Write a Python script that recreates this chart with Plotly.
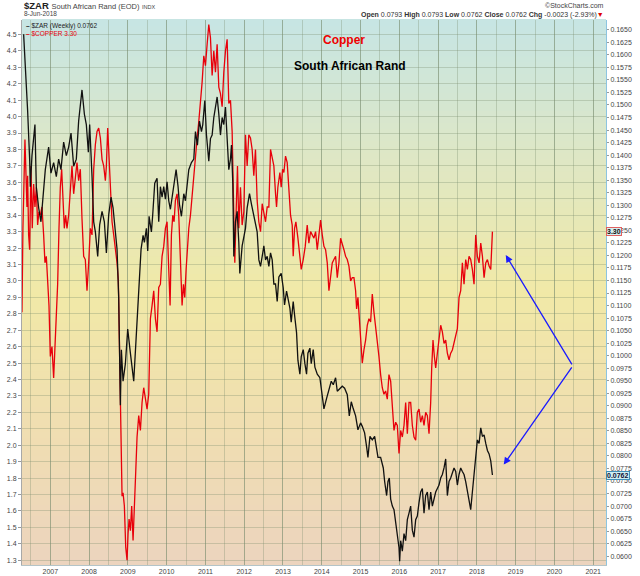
import plotly.graph_objects as go

# $ZAR (USD per rand), weekly - right axis
zar_year = [2006.312, 2006.380, 2006.415, 2006.467, 2006.484, 2006.527, 2006.570, 2006.604, 2006.639, 2006.699,
            2006.759, 2006.811, 2006.871, 2006.957, 2007.017, 2007.086, 2007.155, 2007.215, 2007.275, 2007.344,
            2007.413, 2007.473, 2007.534, 2007.602, 2007.671, 2007.731, 2007.817, 2007.878, 2007.929, 2007.981,
            2008.015, 2008.076, 2008.119, 2008.162, 2008.222, 2008.273, 2008.334, 2008.394, 2008.446, 2008.506,
            2008.566, 2008.618, 2008.678, 2008.721, 2008.764, 2008.790, 2008.807, 2008.833, 2008.876, 2008.936,
            2008.996, 2009.065, 2009.108, 2009.151, 2009.211, 2009.254, 2009.306, 2009.340, 2009.392, 2009.426,
            2009.478, 2009.512, 2009.547,
            2009.607, 2009.641, 2009.693, 2009.753, 2009.796, 2009.839, 2009.882, 2009.925, 2009.968, 2010.011,
            2010.054, 2010.097, 2010.140, 2010.183, 2010.244, 2010.295, 2010.330, 2010.381, 2010.442, 2010.485,
            2010.528, 2010.571, 2010.639, 2010.700, 2010.743, 2010.794, 2010.846, 2010.898, 2010.932, 2010.984,
            2011.027, 2011.087, 2011.130, 2011.173, 2011.216, 2011.259, 2011.302, 2011.345, 2011.388, 2011.431,
            2011.474, 2011.517, 2011.560, 2011.603, 2011.646, 2011.672, 2011.706, 2011.732, 2011.775, 2011.818,
            2011.861, 2011.887, 2011.947, 2011.990, 2012.033, 2012.076, 2012.137, 2012.188, 2012.248, 2012.291,
            2012.334, 2012.378, 2012.421, 2012.464, 2012.507, 2012.550, 2012.593, 2012.636, 2012.679, 2012.722,
            2012.765,
            2012.808, 2012.851, 2012.894, 2012.954, 2013.006, 2013.040, 2013.092, 2013.126, 2013.178, 2013.212,
            2013.264, 2013.299, 2013.350, 2013.385, 2013.436, 2013.471, 2013.522, 2013.565, 2013.608, 2013.643,
            2013.694, 2013.729, 2013.780, 2013.823, 2013.884, 2013.952, 2014.013, 2014.056, 2014.125, 2014.185,
            2014.245, 2014.297, 2014.357, 2014.400, 2014.469, 2014.529, 2014.589, 2014.658, 2014.710, 2014.761,
            2014.813, 2014.873, 2014.933, 2015.002, 2015.045, 2015.105, 2015.157, 2015.191, 2015.243, 2015.303,
            2015.364, 2015.415, 2015.450, 2015.518, 2015.587, 2015.622, 2015.673, 2015.708, 2015.742, 2015.777,
            2015.820, 2015.863, 2015.906, 2015.949, 2015.992,
            2016.009, 2016.035, 2016.078, 2016.121, 2016.164, 2016.207, 2016.250, 2016.293, 2016.336, 2016.379,
            2016.422, 2016.465, 2016.508, 2016.551, 2016.594, 2016.637, 2016.680, 2016.723, 2016.766, 2016.809,
            2016.852, 2016.895, 2016.938, 2016.981, 2017.024, 2017.067, 2017.110, 2017.153, 2017.196, 2017.239,
            2017.282, 2017.325, 2017.368, 2017.411, 2017.454, 2017.497, 2017.540, 2017.583, 2017.626, 2017.669,
            2017.712, 2017.755, 2017.798, 2017.841, 2017.884, 2017.927, 2017.970, 2018.013, 2018.057, 2018.100,
            2018.143, 2018.186, 2018.229, 2018.272, 2018.315, 2018.358, 2018.401]
zar_value = [0.1641, 0.1544, 0.1489, 0.1392, 0.1337, 0.1399, 0.1433, 0.1461, 0.1337, 0.1295,
             0.1267, 0.1323, 0.1371, 0.1416, 0.1364, 0.1385, 0.1357, 0.1392, 0.1371, 0.1426,
             0.1399, 0.1416, 0.1444, 0.1378, 0.1392, 0.1468, 0.1530, 0.1482, 0.1461, 0.1406,
             0.1461, 0.1357, 0.1267, 0.1247, 0.1198, 0.1261, 0.1288, 0.1267, 0.1205, 0.1281,
             0.1316, 0.1295, 0.1254, 0.1212, 0.1115, 0.0977, 0.0901, 0.1012, 0.0949, 0.0984,
             0.1053, 0.1005, 0.0977, 0.0949, 0.1032, 0.1095, 0.1184, 0.1212, 0.1240, 0.1226,
             0.1254, 0.1209, 0.1278,
             0.1247, 0.1281, 0.1344, 0.1354, 0.1267, 0.1337, 0.1316, 0.1337, 0.1312, 0.1347,
             0.1309, 0.1292, 0.1316, 0.1347, 0.1371, 0.1337, 0.1302, 0.1278, 0.1323, 0.1309,
             0.1344, 0.1371, 0.1385, 0.1392, 0.1447, 0.1420, 0.1468, 0.1447, 0.1461, 0.1509,
             0.1440, 0.1388, 0.1433, 0.1440, 0.1475, 0.1496, 0.1516, 0.1482, 0.1440, 0.1475,
             0.1461, 0.1496, 0.1440, 0.1371, 0.1392, 0.1420, 0.1344, 0.1198, 0.1267, 0.1288,
             0.1226, 0.1164, 0.1219, 0.1240, 0.1254, 0.1295, 0.1323, 0.1302, 0.1281, 0.1261,
             0.1247, 0.1191, 0.1178, 0.1198, 0.1219, 0.1191, 0.1198, 0.1178, 0.1205, 0.1191,
             0.1143,
             0.1143, 0.1108, 0.1157, 0.1164, 0.1136, 0.1101, 0.1129, 0.1115, 0.1095, 0.1067,
             0.1108, 0.1081, 0.1046, 0.0991, 0.0963, 0.0998, 0.1012, 0.0984, 0.0963, 0.1005,
             0.1015, 0.0984, 0.1012, 0.0977, 0.0963, 0.0956, 0.0922, 0.0894, 0.0915, 0.0935,
             0.0949, 0.0942, 0.0956, 0.0929, 0.0935, 0.0939, 0.0935, 0.0922, 0.0880, 0.0908,
             0.0894, 0.0880, 0.0852, 0.0866, 0.0859, 0.0846, 0.0818, 0.0797, 0.0839, 0.0832,
             0.0839, 0.0811, 0.0797, 0.0797, 0.0776, 0.0749, 0.0721, 0.0749, 0.0756, 0.0714,
             0.0700, 0.0693, 0.0666, 0.0638, 0.0617,
             0.0590, 0.0631, 0.0610, 0.0645, 0.0631, 0.0673, 0.0686, 0.0700, 0.0652, 0.0638,
             0.0673, 0.0680, 0.0707, 0.0728, 0.0735, 0.0686, 0.0721, 0.0728, 0.0693, 0.0728,
             0.0700, 0.0714, 0.0728, 0.0735, 0.0742, 0.0756, 0.0763, 0.0776, 0.0794, 0.0721,
             0.0749, 0.0756, 0.0769, 0.0776, 0.0769, 0.0742, 0.0763, 0.0776, 0.0769, 0.0763,
             0.0749, 0.0728, 0.0707, 0.0693, 0.0728, 0.0763, 0.0804, 0.0832, 0.0825, 0.0856,
             0.0839, 0.0842, 0.0825, 0.0811, 0.0804, 0.0790, 0.0762]

# $COPPER (USD/lb) - left axis
copper_year = [2006.269, 2006.294, 2006.346, 2006.380, 2006.398, 2006.415, 2006.441, 2006.467, 2006.501, 2006.535,
               2006.570, 2006.604, 2006.639, 2006.673, 2006.707, 2006.742, 2006.785, 2006.828, 2006.862, 2006.897,
               2006.931, 2006.966, 2007.000, 2007.043, 2007.086, 2007.129, 2007.155, 2007.189, 2007.224, 2007.258,
               2007.293, 2007.327, 2007.361, 2007.396, 2007.430, 2007.473, 2007.516, 2007.559, 2007.602, 2007.645,
               2007.688, 2007.731, 2007.774, 2007.817, 2007.860, 2007.903, 2007.946, 2007.989, 2008.033, 2008.076,
               2008.119, 2008.162, 2008.205, 2008.248, 2008.291, 2008.334, 2008.377, 2008.420, 2008.446, 2008.480,
               2008.514, 2008.549, 2008.592, 2008.635, 2008.678, 2008.721, 2008.755, 2008.790, 2008.824, 2008.850,
               2008.876, 2008.910, 2008.945, 2008.979, 2009.005, 2009.031, 2009.065, 2009.099, 2009.134, 2009.168,
               2009.203, 2009.237, 2009.280, 2009.323, 2009.366, 2009.409,
               2009.495, 2009.538, 2009.581, 2009.624, 2009.667, 2009.710, 2009.753, 2009.796, 2009.839, 2009.882,
               2009.925, 2009.968, 2010.011, 2010.054, 2010.089, 2010.123, 2010.158, 2010.192, 2010.226, 2010.269,
               2010.312, 2010.355, 2010.398, 2010.433, 2010.467, 2010.502, 2010.536, 2010.571, 2010.614, 2010.657,
               2010.700, 2010.743, 2010.786, 2010.829, 2010.872, 2010.915, 2010.958, 2011.001, 2011.044, 2011.087,
               2011.130, 2011.173, 2011.216, 2011.259, 2011.302, 2011.345, 2011.388, 2011.431, 2011.474, 2011.517,
               2011.560, 2011.603, 2011.646, 2011.689, 2011.732, 2011.758, 2011.792, 2011.827, 2011.861, 2011.904,
               2011.947, 2011.990, 2012.033, 2012.076, 2012.119, 2012.162, 2012.205, 2012.248, 2012.291, 2012.334,
               2012.377, 2012.421, 2012.464, 2012.507, 2012.550, 2012.593, 2012.636, 2012.679, 2012.722, 2012.765,
               2012.808, 2012.834, 2012.868, 2012.920, 2012.954, 2012.989, 2013.023, 2013.066, 2013.109, 2013.152,
               2013.195, 2013.238, 2013.264, 2013.299, 2013.333, 2013.385, 2013.436, 2013.471, 2013.522, 2013.574,
               2013.625, 2013.668, 2013.712, 2013.755, 2013.798, 2013.841, 2013.884, 2013.927, 2013.970, 2014.013,
               2014.056, 2014.099, 2014.142, 2014.185, 2014.228, 2014.271, 2014.314, 2014.357, 2014.400, 2014.443,
               2014.486, 2014.529, 2014.572, 2014.615, 2014.658, 2014.701, 2014.744, 2014.787, 2014.830, 2014.873,
               2014.899, 2014.933, 2014.968, 2015.002, 2015.045, 2015.088, 2015.131, 2015.174, 2015.217, 2015.260,
               2015.303, 2015.346, 2015.389, 2015.432, 2015.475, 2015.518, 2015.561, 2015.604, 2015.647, 2015.690,
               2015.733, 2015.777, 2015.820, 2015.863, 2015.906, 2015.949,
               2015.992, 2016.035, 2016.078, 2016.121, 2016.164, 2016.207, 2016.250, 2016.293, 2016.336, 2016.379,
               2016.422, 2016.465, 2016.508, 2016.551, 2016.594, 2016.637, 2016.680, 2016.723, 2016.766, 2016.809,
               2016.835, 2016.869, 2016.904, 2016.938, 2016.981, 2017.024, 2017.067, 2017.110, 2017.153, 2017.196,
               2017.239, 2017.282, 2017.325, 2017.368, 2017.411, 2017.454, 2017.497, 2017.540, 2017.583, 2017.626,
               2017.669, 2017.712, 2017.755, 2017.798, 2017.841, 2017.884, 2017.927, 2017.970, 2018.013, 2018.057,
               2018.100, 2018.143, 2018.186, 2018.229, 2018.272, 2018.315, 2018.358, 2018.401]
copper_price = [2.81, 3.32, 3.86, 3.66, 3.45, 3.64, 3.28, 3.19, 3.70, 3.32,
                3.59, 3.45, 3.57, 3.34, 3.42, 3.40, 3.45, 3.28, 3.11, 3.15,
                3.02, 2.85, 2.54, 2.60, 2.41, 2.62, 2.73, 2.98, 3.32, 3.57,
                3.68, 3.53, 3.32, 3.40, 3.32, 3.40, 3.53, 3.70, 3.53, 3.64,
                3.72, 3.61, 3.68, 3.38, 3.15, 3.13, 2.94, 3.11, 3.32, 3.28,
                3.68, 3.83, 3.91, 3.93, 3.87, 3.74, 3.70, 3.61, 3.70, 3.93,
                3.74, 3.53, 3.36, 3.28, 3.21, 3.11, 3.00, 2.47, 2.16, 1.69,
                1.71, 1.63, 1.38, 1.30, 1.46, 1.55, 1.48, 1.63, 1.42, 1.69,
                1.84, 2.05, 2.18, 2.09, 2.26, 2.35,
                2.22, 2.31, 2.77, 2.85, 2.94, 2.77, 2.69, 2.96, 2.98, 3.15,
                3.21, 3.32, 3.36, 3.07, 2.85, 3.28, 3.40, 3.36, 3.49, 3.53,
                3.40, 3.13, 2.85, 2.98, 2.90, 3.07, 3.23, 3.32, 3.40, 3.53,
                3.64, 3.78, 3.87, 3.97, 4.08, 4.21, 4.37, 4.31, 4.44, 4.56,
                4.48, 4.25, 4.40, 4.27, 4.44, 4.18, 4.14, 4.06, 4.27, 4.40,
                4.47, 4.08, 4.10, 3.91, 3.40, 3.11, 3.42, 3.70, 3.32, 3.57,
                3.34, 3.42, 3.89, 3.70, 3.89, 3.87, 3.80, 3.64, 3.80, 3.49,
                3.36, 3.30, 3.47, 3.42, 3.36, 3.45, 3.45, 3.80, 3.74, 3.70,
                3.53, 3.45, 3.57, 3.66, 3.57, 3.68, 3.66, 3.76, 3.72, 3.53,
                3.40, 3.34, 3.15, 3.32, 3.36, 3.26, 3.13, 3.07, 3.13, 3.21,
                3.34, 3.23, 3.30, 3.28, 3.26, 3.30, 3.19, 3.28, 3.37, 3.28,
                3.21, 3.19, 3.11, 2.94, 3.02, 3.11, 3.13, 3.15, 3.02, 3.11,
                3.26, 3.23, 3.19, 3.15, 3.13, 3.09, 3.00, 3.02, 3.02, 2.94,
                2.83, 2.90, 2.79, 2.64, 2.50, 2.58, 2.64, 2.73, 2.77, 2.75,
                2.92, 2.81, 2.73, 2.62, 2.54, 2.43, 2.35, 2.31, 2.33, 2.28,
                2.43, 2.39, 2.26, 2.09, 2.14, 2.12,
                1.95, 2.09, 2.05, 2.12, 2.26, 2.07, 2.26, 2.26, 2.12, 2.05,
                2.03, 2.20, 2.22, 2.14, 2.18, 2.12, 2.20, 2.18, 2.07, 2.26,
                2.47, 2.64, 2.54, 2.47, 2.56, 2.66, 2.73, 2.69, 2.62, 2.64,
                2.56, 2.52, 2.56, 2.58, 2.62, 2.66, 2.71, 2.90, 2.94, 3.11,
                2.98, 3.13, 3.07, 3.15, 3.13, 3.07, 2.98, 3.28, 3.15, 3.11,
                3.23, 3.15, 3.02, 3.11, 3.13, 3.09, 3.07, 3.30]

year_ticks = list(range(2007, 2022))
year_labels = [str(y) for y in year_ticks]

FONT = "Liberation Sans, Arial, sans-serif"
GRID = "rgba(120,140,110,0.32)"

fig = go.Figure()

fig.add_trace(go.Scatter(x=copper_year, y=copper_price, mode="lines", name="$COPPER",
                         line=dict(color="#e8000b", width=1.3), yaxis="y"))
fig.add_trace(go.Scatter(x=zar_year, y=zar_value, mode="lines", name="$ZAR",
                         line=dict(color="#111111", width=1.3), yaxis="y2"))

# background gradient of the plot area (teal top -> yellow -> peach bottom)
stops = [(0.0, (236, 212, 190)), (0.25, (240, 222, 177)), (0.5, (241, 233, 167)),
         (0.75, (222, 231, 197)), (1.0, (198, 229, 228))]


def band_color(t):
    for (p0, c0), (p1, c1) in zip(stops[:-1], stops[1:]):
        if p0 <= t <= p1:
            f = (t - p0) / (p1 - p0)
            return "rgb(%d,%d,%d)" % tuple(round(a + (b - a) * f) for a, b in zip(c0, c1))
    return "rgb(%d,%d,%d)" % stops[-1][1]


n_bands = 90
shapes = []
for i in range(n_bands):
    shapes.append(dict(type="rect", xref="paper", yref="paper", layer="below",
                       x0=0, x1=1, y0=i / n_bands, y1=(i + 1) / n_bands + 0.002,
                       line=dict(width=0), fillcolor=band_color((i + 0.5) / n_bands)))

annotations = [
    dict(text="<b>$ZAR</b> <span style='font-size:7.5px;color:#444'>South African Rand (EOD)</span>"
              " <span style='font-size:5.5px;color:#444'>INDX</span>",
         x=0, y=1.0257, xanchor="left", yanchor="middle", font=dict(size=9.5, color="#222")),
    dict(text="8-Jun-2018", x=0, y=1.0115, xanchor="left", yanchor="middle",
         font=dict(size=6.5, color="#444")),
    dict(text="©StockCharts.com", x=1, y=1.0266, xanchor="right", yanchor="middle",
         font=dict(size=7, color="#444")),
    dict(text="<b>Open</b> 0.0793 <b>High</b> 0.0793 <b>Low</b> 0.0762 <b>Close</b> 0.0762 "
              "<b>Chg</b> -0.0023 (-2.93%)<span style='color:#e00000'>▼</span>",
         x=1, y=1.0092, xanchor="right", yanchor="middle", font=dict(size=7, color="#333")),
    # in-chart legend, two lines in one block
    dict(text="<b>–</b> $ZAR (Weekly) 0.0762<br><span style='color:#e8000b'><b>–</b> $COPPER 3.30</span>",
         x=0.003, y=1.0, xanchor="left", yanchor="top", align="left",
         font=dict(size=6.5, color="#222")),
    dict(text="<b>Copper</b>", x=0.5514, y=0.9633, xanchor="center", yanchor="middle",
         font=dict(size=12, color="#ee0000")),
    dict(text="<b>South African Rand</b>", x=0.5616, y=0.9156, xanchor="center", yanchor="middle",
         font=dict(size=12, color="#000000")),
]
for a in annotations:
    a.update(xref="paper", yref="paper", showarrow=False)
    a["font"]["family"] = FONT

# value tags on the right axis
annotations.append(dict(text="<b>3.30</b>", xref="paper", x=1.0, xanchor="left", yref="y", y=3.30,
                        showarrow=False, font=dict(size=7, color="#111", family=FONT),
                        bgcolor="#d6eef0", bordercolor="#e06060", borderwidth=1, borderpad=0))
annotations.append(dict(text="<b>0.0762</b>", xref="paper", x=1.0, xanchor="left", yref="y2", y=0.0762,
                        showarrow=False, font=dict(size=7, color="#113", family=FONT),
                        bgcolor="#cdeef2", bordercolor="#3f8fb8", borderwidth=1, borderpad=0))

# blue arrows pointing at the latest values
for tip_x, tip_y in [(2018.745, 3.157), (2018.693, 1.882)]:
    annotations.append(dict(text="", x=tip_x, y=tip_y, xref="x", yref="y",
                            ax=2020.474, ay=2.483, axref="x", ayref="y",
                            showarrow=True, arrowhead=2, arrowsize=1.1, arrowwidth=1.3,
                            arrowcolor="#1a1aff"))

fig.update_layout(
    template="none",
    width=640, height=576,
    margin=dict(l=22, r=34, t=20, b=11, pad=0),
    paper_bgcolor="white",
    plot_bgcolor="#f0e8b0",
    showlegend=False,
    hovermode=False,
    font=dict(family=FONT, size=7, color="#444"),
    shapes=shapes,
    annotations=annotations,
    xaxis=dict(
        range=[2006.27, 2021.33], tickmode="array", tickvals=year_ticks, ticktext=year_labels,
        showgrid=True, gridcolor="rgba(120,140,110,0.45)", gridwidth=1,
        minor=dict(dtick=0.5, tick0=2006.5, showgrid=True, gridcolor=GRID, ticks=""),
        ticks="", tickfont=dict(size=7, color="#444"),
        showline=True, linecolor="#b4c4c8", linewidth=1, zeroline=False, automargin=False,
    ),
    yaxis=dict(
        range=[1.271, 4.588], tick0=0, dtick=0.1, tickformat=".1f", side="left",
        showgrid=True, gridcolor=GRID, gridwidth=1,
        ticks="outside", ticklen=3, tickcolor="#999", tickfont=dict(size=7, color="#444"),
        showline=True, linecolor="#a8a8a8", linewidth=1, zeroline=False, automargin=False,
    ),
    yaxis2=dict(
        range=[0.05825, 0.16695], tick0=0, dtick=0.0025, tickformat=".4f", side="right",
        overlaying="y", showgrid=False,
        ticks="outside", ticklen=2, tickcolor="#999", tickfont=dict(size=7, color="#444"),
        showline=True, linecolor="#8cc4e0", linewidth=1, zeroline=False, automargin=False,
    ),
)

# the page body has a default 8px margin; drop it so the chart sits at the window corner
fig.write_html("out.html", config={"displayModeBar": False},
               post_script="document.body.style.margin='0';")
